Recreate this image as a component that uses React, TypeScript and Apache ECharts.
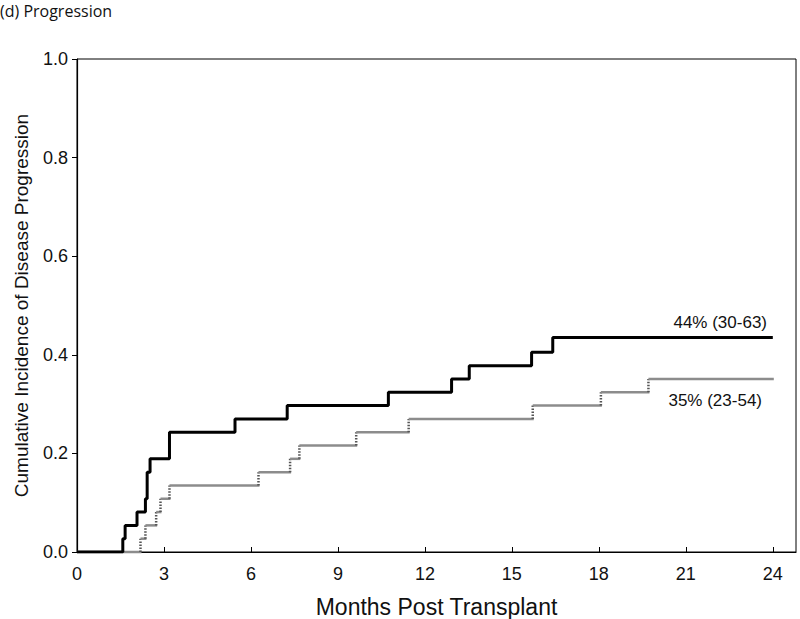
import React, { useEffect, useRef } from "react";
import * as echarts from "echarts";

const blackTimes = [0, 1.58, 1.66, 2.07, 2.36, 2.42, 2.52, 3.19, 5.45, 7.25, 10.74, 12.92, 13.53, 15.68, 16.41, 24];
const blackValues = [0, 0.027, 0.054, 0.081, 0.108, 0.162, 0.189, 0.243, 0.27, 0.297, 0.324, 0.351, 0.378, 0.405, 0.435, 0.435];
const grayTimes = [0, 2.19, 2.36, 2.73, 2.88, 3.19, 6.26, 7.35, 7.67, 9.63, 11.44, 15.72, 18.07, 19.71, 24];
const grayValues = [0, 0.027, 0.054, 0.081, 0.108, 0.135, 0.162, 0.189, 0.216, 0.243, 0.27, 0.297, 0.324, 0.351, 0.351];
const xTicks = [0, 3, 6, 9, 12, 15, 18, 21, 24];
const yTicks = [0, 0.2, 0.4, 0.6, 0.8, 1.0];
const labelBlack = "44% (30-63)";
const labelGray = "35% (23-54)";

const FONT = "'Liberation Sans', Arial, sans-serif";

export default function App() {
  const ref = useRef<HTMLDivElement>(null);
  useEffect(() => {
    if (!ref.current) return;
    const chart = echarts.init(ref.current, null, { renderer: "svg" });
    const blackData = blackTimes.map((t, i) => [t, blackValues[i]]);
    const graySegments = grayTimes.slice(0, -1).map((t, i) => [t, grayValues[i], grayTimes[i + 1], grayValues[i + 1]]);
    chart.setOption({
      animation: false,
      backgroundColor: "#fff",
      grid: {
        left: 77,
        right: 4,
        top: 59,
        bottom: 67,
        outerBoundsMode: "none",
        containLabel: false,
        show: true,
        borderColor: "#000",
        borderWidth: 1,
        backgroundColor: "transparent",
      },
      title: {
        text: "(d) Progression",
        left: 0,
        top: 2,
        padding: 0,
        textStyle: { fontFamily: "'Open Sans', sans-serif", fontSize: 16, lineHeight: 18, fontWeight: "normal", color: "#111" },
      },
      xAxis: {
        type: "value",
        min: 0,
        max: 24.8,
        interval: 3,
        name: "Months Post Transplant",
        nameLocation: "middle",
        nameGap: 43,
        nameTextStyle: { fontFamily: FONT, fontSize: 23, color: "#111" },
        axisLine: { show: true, lineStyle: { color: "#000", width: 1.2 } },
        axisTick: { show: true, inside: true, length: 5, lineStyle: { color: "#000" } },
        axisLabel: {
          showMaxLabel: false,
          margin: 13,
          fontFamily: FONT,
          fontSize: 18,
          color: "#111",
          formatter: (v: number) => (xTicks.includes(v) ? String(v) : ""),
        },
        splitLine: { show: false },
      },
      yAxis: {
        type: "value",
        min: 0,
        max: 1,
        interval: 0.2,
        name: "Cumulative Incidence of Disease Progression",
        nameLocation: "middle",
        nameGap: 46,
        nameTextStyle: { fontFamily: FONT, fontSize: 19, color: "#111" },
        axisLine: { show: true, lineStyle: { color: "#000", width: 1.2 } },
        axisTick: { show: true, inside: false, length: 5, lineStyle: { color: "#000" } },
        axisLabel: {
          margin: 9,
          fontFamily: FONT,
          fontSize: 18,
          color: "#111",
          formatter: (v: number) => (yTicks.some((t) => Math.abs(t - v) < 1e-9) ? v.toFixed(1) : ""),
        },
        splitLine: { show: false },
      },
      series: [
        {
          type: "custom",
          data: graySegments,
          encode: { x: [0, 2], y: [1, 3] },
          z: 2,
          renderItem: (params: any, api: any) => {
            const p0 = api.coord([api.value(0), api.value(1)]);
            const p1 = api.coord([api.value(2), api.value(1)]);
            const p2 = api.coord([api.value(2), api.value(3)]);
            const children: any[] = [
              {
                type: "line",
                shape: { x1: p0[0], y1: p0[1], x2: p1[0] + 1, y2: p1[1] },
                style: { stroke: "#8c8c8c", lineWidth: 2.5 },
              },
            ];
            if (Math.abs(p2[1] - p1[1]) > 0.5) {
              children.push({
                type: "line",
                shape: { x1: p1[0], y1: p1[1], x2: p2[0], y2: p2[1] },
                style: { stroke: "#555", lineWidth: 2.5, lineDash: [1.5, 1.5] },
              });
            }
            return { type: "group", children };
          },
        },
        {
          type: "line",
          step: "end",
          data: blackData,
          showSymbol: false,
          symbol: "none",
          lineStyle: { color: "#000", width: 3 },
          z: 3,
        },
      ],
      graphic: [
        {
          type: "text",
          right: 33,
          top: 314,
          style: { text: labelBlack, fontFamily: FONT, fontSize: 17, fill: "#111" },
        },
        {
          type: "text",
          right: 38,
          top: 392,
          style: { text: labelGray, fontFamily: FONT, fontSize: 17, fill: "#111" },
        },
      ],
    });
    return () => chart.dispose();
  }, []);
  return <div ref={ref} style={{ width: 800, height: 619, position: "absolute", left: 0, top: 0 }} />;
}
